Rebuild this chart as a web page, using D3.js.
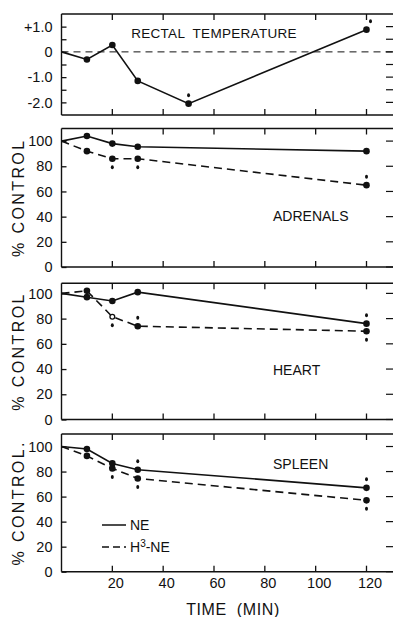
<!DOCTYPE html>
<html>
<head>
<meta charset="utf-8">
<script src="https://cdn.jsdelivr.net/npm/d3@7"></script>
<style>
  body { margin: 0; background: #fff; }
  svg { display: block; font-family: "Liberation Sans", Arial, sans-serif; }
</style>
</head>
<body>
<div id="chart"></div>
<script>
// data
const times = [0, 10, 20, 30, 120];
const tempTimes = [0, 10, 20, 30, 50, 120];
const tempValues = [0, -0.3, 0.27, -1.15, -2.05, 0.88];

const adrenalsNE = [100, 104, 98, 95.5, 92];
const adrenalsH3 = [100, 92, 86, 86, 65];
const heartNE = [100, 97, 94, 101, 76];
const heartH3 = [100, 102, 81.5, 74, 70];
const spleenNE = [100, 98, 86.5, 81.5, 67];
const spleenH3 = [100, 92.5, 82.5, 74.5, 57];

// significance marks: [series, time, side] (side -1 above, 1 below)
const tempSig = [['temp', 50, -1], ['temp', 120, -1]];
const adrenalsSig = [['h3', 20, 1], ['h3', 30, 1], ['h3', 120, -1]];
const heartSig = [['h3', 20, 1], ['h3', 30, -1], ['ne', 120, -1], ['h3', 120, 1]];
const spleenSig = [['h3', 20, 1], ['ne', 30, -1], ['h3', 30, 1], ['ne', 120, -1], ['h3', 120, 1]];
// hollow points: [series, time]
const heartOpen = [['h3', 20]];

const xTicks = [20, 40, 60, 80, 100, 120];
const tempTicks = [-2, -1.5, -1, -0.5, 0, 0.5, 1];
const tempLabels = { '1': '+1.0', '0': '0', '-1': '-1.0', '-2': '-2.0' };
const pctTicks = [0, 20, 40, 60, 80, 100];
const seriesNames = ['NE', 'H3-NE'];

const W = 393, H = 617;
const svg = d3.select('#chart').append('svg').attr('width', W).attr('height', H);
const x = d3.scaleLinear().domain([0, 120]).range([61.5, 366.5]);
const xRight = 393;
const ink = '#111';

const line = (y) => d3.line().x(d => x(d[0])).y(d => y(d[1]));

function frame (g, y, top, bottom, yTicks, fmt, showX) {
  [[x(0), xRight, top, top], [x(0), xRight, bottom, bottom], [x(0), x(0), top, bottom]].forEach(s => {
    g.append('line').attr('x1', s[0]).attr('x2', s[1]).attr('y1', s[2]).attr('y2', s[3])
      .attr('stroke', ink).attr('stroke-width', 1.4);
  });
  // inward ticks on top and bottom edges
  g.append('g').selectAll('line').data(xTicks).join('line')
    .attr('x1', d => x(d)).attr('x2', d => x(d)).attr('y1', top).attr('y2', top + 6)
    .attr('stroke', ink).attr('stroke-width', 1.3);
  g.append('g').selectAll('line').data(xTicks).join('line')
    .attr('x1', d => x(d)).attr('x2', d => x(d)).attr('y1', bottom).attr('y2', bottom - 6)
    .attr('stroke', ink).attr('stroke-width', 1.3);
  // short ticks at the right edge
  g.append('g').selectAll('line').data(yTicks).join('line')
    .attr('x1', xRight - 7).attr('x2', xRight).attr('y1', d => y(d)).attr('y2', d => y(d))
    .attr('stroke', ink).attr('stroke-width', 1.2);

  const leftAx = g.append('g').attr('transform', `translate(${x(0)},0)`)
    .call(d3.axisLeft(y).tickValues(yTicks).tickSizeInner(-5).tickSizeOuter(0).tickPadding(9).tickFormat(fmt));
  leftAx.select('.domain').remove();
  leftAx.selectAll('.tick line').attr('stroke', ink).attr('stroke-width', 1.3);
  leftAx.selectAll('text').attr('fill', ink).attr('font-size', 14.5).attr('font-family', '"Liberation Sans", Arial, sans-serif');

  if (showX) {
    const botAx = g.append('g').attr('transform', `translate(0,${bottom})`)
      .call(d3.axisBottom(x).tickValues(xTicks).tickSize(0).tickPadding(6).tickFormat(d3.format('d')));
    botAx.select('.domain').remove();
    botAx.selectAll('text').attr('fill', ink).attr('font-size', 14.5).attr('dx', 3)
      .attr('font-family', '"Liberation Sans", Arial, sans-serif');
  }
}

function points (g, y, data, openList, key) {
  data.slice(1).forEach(d => {
    const open = openList.some(o => o[0] === key && o[1] === d[0]);
    g.append('circle').attr('cx', x(d[0])).attr('cy', y(d[1]))
      .attr('r', open ? 2.4 : 3.3)
      .attr('fill', open ? '#fff' : ink)
      .attr('stroke', ink).attr('stroke-width', open ? 1.3 : 0);
  });
}

function sigMarks (g, y, sig, ts, lookup) {
  sig.forEach(([key, t, side]) => {
    const v = lookup[key][ts.indexOf(t)];
    g.append('ellipse').attr('cx', x(t) + (key === 'temp' && t === 120 ? 4 : 0))
      .attr('cy', y(v) + side * 8.5).attr('rx', 1.5).attr('ry', 2).attr('fill', ink);
  });
}

// panel 1: rectal temperature
{
  const top = 14, bottom = 115;
  const y = d3.scaleLinear().domain([-2.5, 1.5]).range([bottom, top]);
  const g = svg.append('g');
  frame(g, y, top, bottom, tempTicks, d => tempLabels[String(d)] || '', false);
  g.append('line').attr('x1', x(0)).attr('x2', xRight).attr('y1', y(0)).attr('y2', y(0))
    .attr('stroke', ink).attr('stroke-width', 1).attr('stroke-dasharray', '7,5');
  const data = tempTimes.map((t, i) => [t, tempValues[i]]);
  g.append('path').attr('d', line(y)(data)).attr('fill', 'none').attr('stroke', ink).attr('stroke-width', 1.6);
  points(g, y, data, [], 'temp');
  sigMarks(g, y, tempSig, tempTimes, { temp: tempValues });
  g.append('text').attr('x', 214).attr('y', 38).attr('text-anchor', 'middle')
    .attr('font-size', 13.5).attr('fill', ink).attr('letter-spacing', 0.3)
    .attr('xml:space', 'preserve').text('RECTAL  TEMPERATURE');
}

// panels 2-4
const organPanels = [
  { name: 'ADRENALS', ylab: '% CONTROL', ne: adrenalsNE, h3: adrenalsH3, sig: adrenalsSig, open: [], top: 128.5, bottom: 267, max: 110, labY: 221 },
  { name: 'HEART', ylab: '% CONTROL', ne: heartNE, h3: heartH3, sig: heartSig, open: heartOpen, top: 283.3, bottom: 419.5, max: 108, labY: 375 },
  { name: 'SPLEEN', ylab: '% CONTROL.', ne: spleenNE, h3: spleenH3, sig: spleenSig, open: [], top: 434, bottom: 571.7, max: 110, labY: 469 }
];

organPanels.forEach((p, i) => {
  const y = d3.scaleLinear().domain([0, p.max]).range([p.bottom, p.top]);
  const g = svg.append('g');
  frame(g, y, p.top, p.bottom, pctTicks, d3.format('d'), i === organPanels.length - 1);
  const ne = times.map((t, j) => [t, p.ne[j]]);
  const h3 = times.map((t, j) => [t, p.h3[j]]);
  g.append('path').attr('d', line(y)(h3)).attr('fill', 'none').attr('stroke', ink)
    .attr('stroke-width', 1.6).attr('stroke-dasharray', '8,5');
  g.append('path').attr('d', line(y)(ne)).attr('fill', 'none').attr('stroke', ink).attr('stroke-width', 1.6);
  points(g, y, ne, p.open, 'ne');
  points(g, y, h3, p.open, 'h3');
  sigMarks(g, y, p.sig, times, { ne: p.ne, h3: p.h3 });
  g.append('text').attr('x', 273).attr('y', p.labY).attr('font-size', 14).attr('fill', ink).text(p.name);
  const mid = (p.top + p.bottom) / 2;
  g.append('text').attr('transform', `translate(23.5,${mid}) rotate(-90)`).attr('text-anchor', 'middle')
    .attr('font-size', 16).attr('letter-spacing', 2.4).attr('fill', ink).text(p.ylab);
});

// legend
const leg = svg.append('g').attr('transform', 'translate(102,525)');
seriesNames.forEach((s, i) => {
  const row = leg.append('g').attr('transform', `translate(0,${i * 22})`);
  row.append('line').attr('x1', 0).attr('x2', 24).attr('stroke', ink).attr('stroke-width', 1.5)
    .attr('stroke-dasharray', i === 0 ? null : '7,4');
  const t = row.append('text').attr('x', 28).attr('y', 5).attr('font-size', 14).attr('fill', ink);
  if (s.startsWith('H3')) {
    t.append('tspan').text('H');
    t.append('tspan').attr('dy', -5).attr('font-size', 10).text('3');
    t.append('tspan').attr('dy', 5).text(s.slice(2));
  } else {
    t.text(s);
  }
});

svg.append('text').attr('x', 233).attr('y', 615).attr('text-anchor', 'middle')
  .attr('font-size', 16).attr('letter-spacing', 0.6).attr('fill', ink)
  .attr('xml:space', 'preserve').text('TIME  (MIN)');
</script>
</body>
</html>
